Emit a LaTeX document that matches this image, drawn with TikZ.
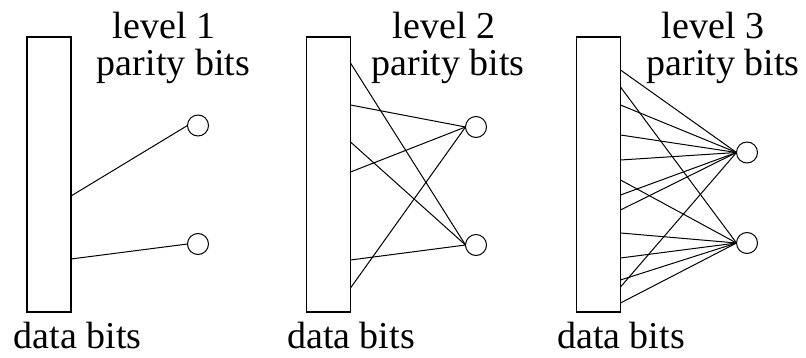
\documentclass[tikz,border=0pt]{standalone}
\usepackage{fontspec}
\setmainfont{Liberation Serif}
\begin{document}
\begin{tikzpicture}[x=1pt,y=-1pt,
  databox/.style={draw, line width=1.4pt, minimum width=44pt, minimum height=275pt, inner sep=0pt, outer sep=0pt, anchor=north west},
  pbit/.style={draw, circle, line width=1pt, minimum size=21pt, inner sep=0pt, outer sep=0pt},
  link/.style={line width=1pt},
  lbl/.style={font=\fontsize{38}{40}\selectfont, anchor=base, inner sep=0pt}]
\useasboundingbox (0,0) rectangle (806,358);
% ---------- level 1 ----------
\node[databox] (d1) at (27,37) {};
\node[pbit] (u1) at (198,125.5) {};
\node[pbit] (l1) at (198,244) {};
\node[lbl] (t1a) at (164,39) {level 1};
\node[lbl] (t1b) at (173.5,76) {parity bits};
\node[lbl] (t1c) at (77.5,348) {data bits};
\coordinate (a1) at (71,196);
\coordinate (a2) at (71,259);
\draw[link] (a1) -- (u1.west);
\draw[link] (a2) -- (l1.west);
% ---------- level 2 ----------
\node[databox] (d2) at (306.5,37) {};
\node[pbit] (u2) at (476,127) {};
\node[pbit] (l2) at (476,245) {};
\node[lbl] (t2a) at (444,39) {level 2};
\node[lbl] (t2b) at (448,76) {parity bits};
\node[lbl] (t2c) at (351,348) {data bits};
\foreach \y in {105,172,288} {\coordinate (b\y) at (350.5,\y); \draw[link] (b\y) -- (u2.west);}
\foreach \y in {63,142,260} {\coordinate (c\y) at (350.5,\y); \draw[link] (c\y) -- (l2.west);}
% ---------- level 3 ----------
\node[databox] (d3) at (576.5,37) {};
\node[pbit] (u3) at (747,152.5) {};
\node[pbit] (l3) at (747,243) {};
\node[lbl] (t3a) at (713,39) {level 3};
\node[lbl] (t3b) at (723,76) {parity bits};
\node[lbl] (t3c) at (621,348) {data bits};
\foreach \y in {70,105,135,160,195,210,287} {\coordinate (e\y) at (620.5,\y); \draw[link] (e\y) -- (u3.west);}
\foreach \y in {87,180,233,258,280,303} {\coordinate (f\y) at (620.5,\y); \draw[link] (f\y) -- (l3.west);}
\end{tikzpicture}
\end{document}
